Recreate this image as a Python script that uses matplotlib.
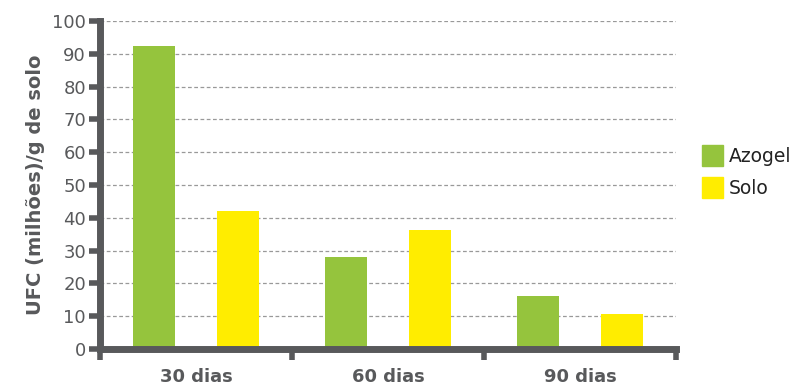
import matplotlib
matplotlib.use("Agg")
import matplotlib.pyplot as plt
import numpy as np
from matplotlib.patches import Patch

categories = ["30 dias", "60 dias", "90 dias"]
azogel = [92.4, 28.0, 16.2]
solo = [42.1, 36.3, 10.7]
yticks = [0, 10, 20, 30, 40, 50, 60, 70, 80, 90, 100]

green = "#95C43D"
yellow = "#FFED00"
axc = "#58595B"

plt.rcParams['font.family'] = ['DejaVu Sans']
fig = plt.figure(figsize=(8.01, 3.86), dpi=100)
ax = fig.add_axes([0.1248, 0.0959, 0.844 - 0.1248, 0.9456 - 0.0959])

x = np.arange(len(categories))
w = 0.218
ax.bar(x - 0.22, azogel, width=w, color=green, zorder=3)
ax.bar(x + 0.22, solo, width=w, color=yellow, zorder=3)

ax.set_xlim(-0.5, len(categories) - 0.5)
ax.set_ylim(0, 100)
ax.set_yticks(yticks)
ax.set_yticklabels([str(v) for v in yticks], fontsize=13, color=axc)
ax.yaxis.grid(True, linestyle=(0, (3, 2)), color="#999999", linewidth=0.9, zorder=1)

ax.set_xticks(np.arange(-0.5, len(categories), 1.0))
ax.set_xticklabels([])
ax.set_xticks(x, minor=True)
ax.set_xticklabels(categories, minor=True, fontsize=13, fontweight="bold", color=axc)
ax.tick_params(axis="x", which="major", direction="out", length=8, width=4, color=axc)
ax.tick_params(axis="x", which="minor", length=0, pad=14)
ax.tick_params(axis="y", direction="out", length=8, width=4, color=axc, pad=2)

for s in ["top", "right"]:
    ax.spines[s].set_visible(False)
for s in ["left", "bottom"]:
    ax.spines[s].set_color(axc)
    ax.spines[s].set_linewidth(5)
    ax.spines[s].set_zorder(4)

ax.set_ylabel("UFC (milhões)/g de solo", fontsize=14, fontweight="bold", color=axc, labelpad=5)

handles = [Patch(color=green, label="Azogel"), Patch(color=yellow, label="Solo")]
fig.legend(handles=handles, loc="center left", bbox_to_anchor=(0.877, 0.555), frameon=False,
           borderpad=0, borderaxespad=0,
           fontsize=13.5, handlelength=1.1, handleheight=1.35, handletextpad=0.3, labelspacing=0.6,
           labelcolor="#222222")

fig.savefig("out.png", dpi=100)
